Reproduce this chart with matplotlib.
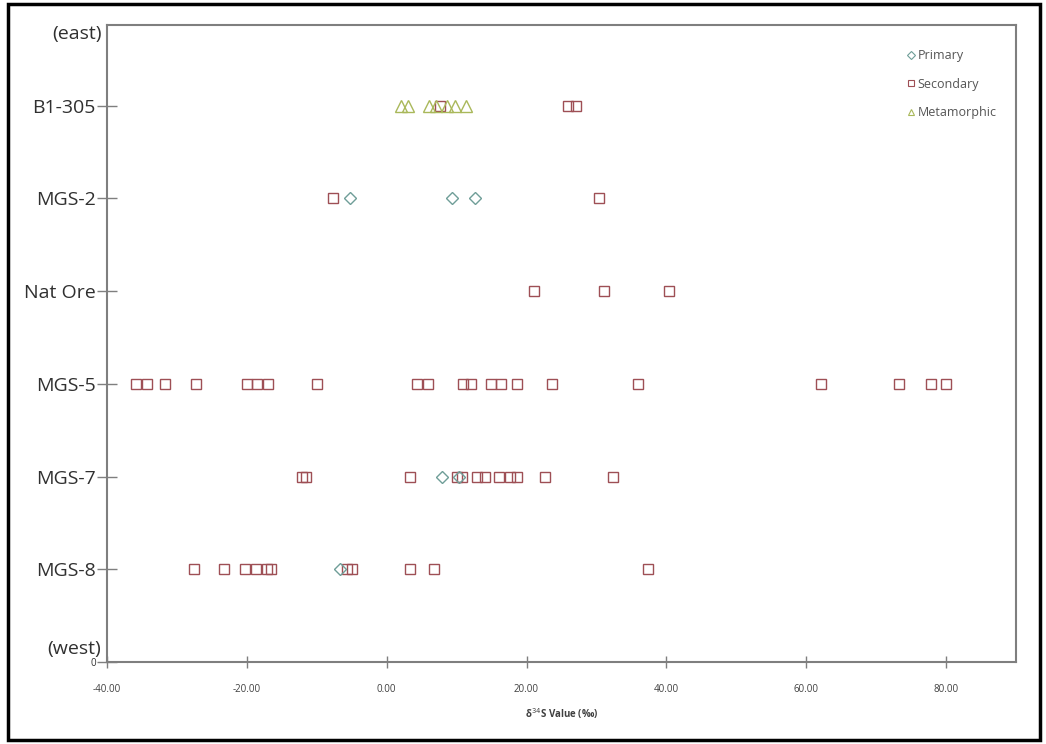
import numpy as np
import matplotlib.pyplot as plt
from matplotlib.patches import Rectangle

plt.rcParams['font.family'] = ['Open Sans', 'DejaVu Sans']

# sample rows (bottom to top) and their y position
sites = ['MGS-8', 'MGS-7', 'MGS-5', 'Nat Ore', 'MGS-2', 'B1-305']
site_y = [1, 2, 3, 4, 5, 6]

# d34S values, per site and sulfide type
primary = {
    'MGS-8': [-6.7],
    'MGS-7': [7.9, 10.3],
    'MGS-5': [],
    'Nat Ore': [],
    'MGS-2': [-5.3, 9.3, 12.6],
    'B1-305': [],
}
secondary = {
    'MGS-8': [-27.6, -23.3, -20.3, -18.7, -17.1, -16.6, -5.7, -5.0, 3.4, 6.7, 37.3],
    'MGS-7': [-12.1, -11.6, 3.3, 10.0, 10.7, 12.9, 14.1, 16.1, 17.6, 18.6, 22.6, 32.3],
    'MGS-5': [-35.9, -34.3, -31.7, -27.3, -20.0, -18.6, -17.0, -9.9, 4.3, 5.9,
              10.9, 12.0, 14.9, 16.4, 18.6, 23.6, 36.0, 62.1, 73.3, 77.9, 80.0],
    'Nat Ore': [21.0, 31.1, 40.4],
    'MGS-2': [-7.7, 30.3],
    'B1-305': [7.6, 25.9, 27.1],
}
metamorphic = {
    'MGS-8': [],
    'MGS-7': [],
    'MGS-5': [],
    'Nat Ore': [],
    'MGS-2': [],
    'B1-305': [2.1, 3.1, 6.1, 7.0, 8.6, 9.7, 11.3],
}

x_ticks = [-40, -20, 0, 20, 40, 60, 80]

c_prim = '#6f9e98'
c_sec = '#9e4f55'
c_meta = '#a9b85a'
c_axis = '#7f7f7f'

fig = plt.figure(figsize=(10.46, 7.44), dpi=100)
ax = fig.add_axes([107 / 1046, 1 - 662 / 744, (1016 - 107) / 1046, (662 - 25) / 744])

for name, y in zip(sites, site_y):
    xs = secondary[name]
    ax.plot(xs, [y] * len(xs), 's', ms=7, mfc='none', mec=c_sec, mew=1.0)
    xs = metamorphic[name]
    ax.plot(xs, [y] * len(xs), '^', ms=8, mfc='none', mec=c_meta, mew=1.0)
    xs = primary[name]
    ax.plot(xs, [y] * len(xs), 'D', ms=6.5, mfc='none', mec=c_prim, mew=1.0)

# legend handles
h1, = ax.plot([], [], 'D', ms=4, mfc='none', mec=c_prim, mew=0.8, label='Primary')
h2, = ax.plot([], [], 's', ms=5, mfc='none', mec=c_sec, mew=0.8, label='Secondary')
h3, = ax.plot([], [], '^', ms=5, mfc='none', mec=c_meta, mew=0.8, label='Metamorphic')
leg = ax.legend(handles=[h1, h2, h3], loc='upper left', bbox_to_anchor=(0.875, 0.97),
                frameon=False, fontsize=9, handlelength=0.6, handletextpad=0.2,
                labelspacing=1.25, borderaxespad=0)
for t in leg.get_texts():
    t.set_color('#555555')

ax.set_xlim(-40, 90)
ax.set_ylim(0, 6.87)
ax.set_xticks(x_ticks)
ax.set_xticklabels(['%.2f' % v for v in x_ticks], fontsize=7, color='#404040')
ax.set_yticks([0] + site_y)
ax.set_yticklabels(['0'] + sites)
for i, lab in enumerate(ax.get_yticklabels()):
    lab.set_fontsize(7 if i == 0 else 14)
    lab.set_color('#303030')

ax.tick_params(axis='both', direction='inout', color=c_axis, width=1)
ax.tick_params(axis='y', length=14, pad=1)
ax.tick_params(axis='x', length=8, pad=12)
for s in ax.spines.values():
    s.set_color(c_axis)
    s.set_linewidth(1.5)

ax.text(-40.8, 6.77, '(east)', ha='right', va='center', fontsize=14, color='#303030')
ax.text(-40.8, 0.14, '(west)', ha='right', va='center', fontsize=14, color='#303030')

ax.set_xlabel('δ$^{34}$S Value (‰)', fontsize=7, fontweight='bold', color='#404040', labelpad=8)

# outer picture border
fig.patches.append(Rectangle((8 / 1046, 4 / 744), 1032 / 1046, 736 / 744,
                             transform=fig.transFigure, fill=False,
                             edgecolor='black', linewidth=2.5))

fig.savefig('out.png', dpi=100)
